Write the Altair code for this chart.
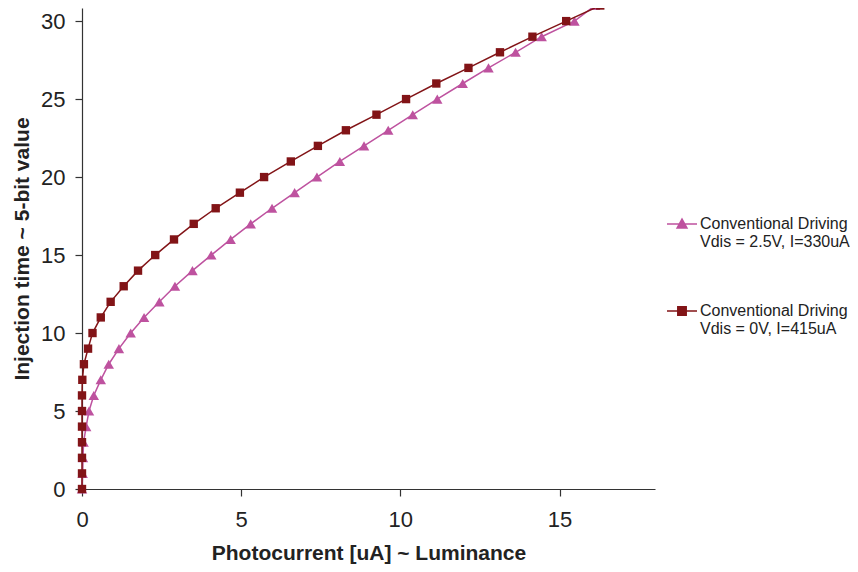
import altair as alt
import pandas as pd

# ---- data ----
injection_time = list(range(32))  # 5-bit value 0..31
photocurrent_vdis25 = [0.00, 0.02, 0.03, 0.05, 0.13, 0.22, 0.37, 0.59, 0.84, 1.16,
                       1.53, 1.95, 2.43, 2.92, 3.47, 4.06, 4.67, 5.30, 5.97, 6.68,
                       7.38, 8.10, 8.86, 9.62, 10.39, 11.16, 11.96, 12.77, 13.62, 14.44,
                       15.47, 16.12]
photocurrent_vdis0 = [0.00, 0.00, 0.00, 0.00, 0.00, 0.00, 0.00, 0.01, 0.06, 0.19,
                      0.33, 0.59, 0.90, 1.31, 1.76, 2.30, 2.89, 3.51, 4.20, 4.96,
                      5.72, 6.56, 7.41, 8.29, 9.25, 10.18, 11.13, 12.14, 13.13, 14.15,
                      15.21, 16.28]
series_names = ["Conventional Driving\nVdis = 2.5V, I=330uA",
                "Conventional Driving\nVdis = 0V, I=415uA"]
series_colors = ["#BE529F", "#821417"]
x_ticks = [0, 5, 10, 15]
y_ticks = [0, 5, 10, 15, 20, 25, 30]

rows = []
for name, xs in zip(series_names, [photocurrent_vdis25, photocurrent_vdis0]):
    for t, p in zip(injection_time, xs):
        rows.append({"series": name, "injection": t, "photocurrent": p})
df = pd.DataFrame(rows)

FONT = "Liberation Sans"

x_enc = alt.X("photocurrent:Q",
              scale=alt.Scale(domain=[0, 18], nice=False, zero=False),
              axis=alt.Axis(values=x_ticks, title="Photocurrent [uA] ~ Luminance",
                            grid=False, tickSize=7, labelPadding=13, labelFlush=False,
                            titlePadding=12))
y_enc = alt.Y("injection:Q",
              scale=alt.Scale(domain=[0, 30.84], nice=False, zero=False),
              axis=alt.Axis(values=y_ticks, title="Injection time ~ 5-bit value",
                            grid=False, tickSize=7, labelPadding=10, labelFlush=False,
                            titlePadding=8))

base = alt.Chart(df).encode(x=x_enc, y=y_enc, order="injection:Q")

pink = base.transform_filter(alt.datum.series == series_names[0])
red = base.transform_filter(alt.datum.series == series_names[1])

pink_line = pink.mark_line(color=series_colors[0], strokeWidth=1.5)
pink_pts = pink.mark_point(shape="triangle-up", filled=True, size=110,
                           color=series_colors[0], opacity=1)
red_line = red.mark_line(color=series_colors[1], strokeWidth=1.5)
red_pts = red.mark_point(shape="square", filled=True, size=70,
                         color=series_colors[1], opacity=1)

tri_path = "M-1,0L1,0M-0.33,0.27L0,-0.33L0.33,0.27Z"
sq_path = "M-1,0L1,0M-0.28,-0.28L0.28,-0.28L0.28,0.28L-0.28,0.28Z"

legend_cfg = alt.Legend(orient="none", legendX=584, legendY=200, title=None,
                        labelExpr="split(datum.label, '\\n')",
                        labelFont=FONT, labelFontSize=16, labelColor="#222222",
                        labelLimit=400, labelOffset=2, symbolSize=900,
                        symbolStrokeWidth=1.5, symbolOpacity=1, rowPadding=45,
                        padding=0)
legend_layer = alt.Chart(df).mark_point(filled=True, opacity=0, size=1).encode(
    x=alt.X("photocurrent:Q"),
    y=alt.Y("injection:Q"),
    fill=alt.Fill("series:N", scale=alt.Scale(domain=series_names, range=series_colors),
                  legend=legend_cfg),
    stroke=alt.Stroke("series:N", scale=alt.Scale(domain=series_names, range=series_colors),
                      legend=legend_cfg),
    shape=alt.Shape("series:N", scale=alt.Scale(domain=series_names, range=[tri_path, sq_path]),
                    legend=legend_cfg),
)

chart = alt.layer(pink_line, pink_pts, red_line, red_pts, legend_layer).properties(
    width=573, height=481,
    autosize=alt.AutoSizeParams(type="none"),
    padding={"left": 74, "top": 0, "right": 195, "bottom": 75},
).configure_view(stroke=None).configure_axis(
    labelFont=FONT, labelFontSize=22, labelColor="#222222",
    titleFont=FONT, titleFontSize=21, titleFontWeight="bold", titleColor="#222222",
    domainColor="#333333", tickColor="#333333", domainWidth=1.2, tickWidth=1.2,
)

chart.save("out.html", embed_options={"renderer": "svg", "actions": False})
